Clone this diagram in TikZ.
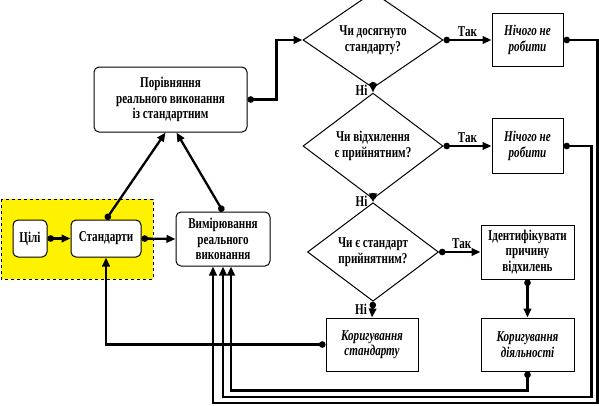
\documentclass[tikz,border=0pt]{standalone}
\usepackage{fontspec}
\setmainfont{Liberation Serif}[FakeStretch=0.74]
\usetikzlibrary{arrows.meta,shapes.geometric}

\begin{document}
\begin{tikzpicture}[x=1pt, y=1pt, line width=2.3pt,
	rbox/.style={draw, line width=1pt, rounded corners=5pt, fill=white, align=center, inner sep=1pt, font=\fontsize{15}{15.5}\selectfont\bfseries},
	sbox/.style={draw, line width=1pt, fill=white, align=center, inner sep=1pt, font=\fontsize{15}{15.5}\selectfont\bfseries\itshape},
	ibox/.style={sbox, font=\fontsize{15}{15.5}\selectfont\bfseries},
	ask/.style={draw, diamond, line width=1pt, inner sep=0pt, align=center, font=\fontsize{15}{15.5}\selectfont\bfseries},
	link/.style={{Circle[length=6.5pt]}-{Triangle[length=9pt,width=7.5pt]}},
	tag/.style={font=\fontsize{15}{15}\selectfont\bfseries, inner sep=2.5pt}]
		\useasboundingbox (0,0) rectangle (599,-405);
		%%%%% START %%%%%
		\draw[fill=yellow, dashed, line width=1pt] (1, -199) rectangle (153, -279);
		
		\node[rbox, minimum width=34, minimum height=37] (cili) at (30, -238.5) {Цілі};
		\node[rbox, minimum width=70, minimum height=37] (std) at (106, -238.5) {Стандарти};
		\node[rbox, minimum width=94, minimum height=54] (vym) at (223, -239) {Вимірювання\\реального\\виконання};
		\node[rbox, minimum width=153, minimum height=65] (por) at (170.5, -99.5) {Порівняння\\реального виконання\\із стандартним};
		
		\node[ask, minimum width=140, minimum height=80] (q1) at (373, -40) {Чи досягнуто\\стандарту?};
		\node[ask, minimum width=140, minimum height=78] (q2) at (373, -146) {Чи відхилення\\є прийнятним?};
		\node[ask, minimum width=131, minimum height=78] (q3) at (373, -252) {Чи є стандарт\\прийнятним?};
		
		\node[sbox, minimum width=71, minimum height=53] (nil1) at (527.5, -40) {Нічого не\\робити};
		\node[sbox, minimum width=71, minimum height=55] (nil2) at (527.5, -146) {Нічого не\\робити};
		\node[ibox, minimum width=93, minimum height=54] (ident) at (527.5, -252) {Ідентифікувати\\причину\\відхилень};
		\node[sbox, minimum width=93, minimum height=53] (kd) at (527.5, -344.5) {Коригування\\діяльності};
		\node[sbox, minimum width=92, minimum height=53] (ks) at (372, -344.5) {Коригування\\стандарту};
		
		\draw[link] (cili.east) -- (std.west);
		\draw[link] (std.east) -- (vym.west);
		\draw[link] (std.north) -- ([xshift=-5]por.south);
		\draw[link] (vym.north) -- ([xshift=6]por.south);
		\draw[link] (por.east) -- ++(29, 0) |- (q1.west);
		
		\draw[link] (q1.east) -- node[tag, above] {Так} (nil1.west);
		\draw[link] (q2.east) -- node[tag, above] {Так} (nil2.west);
		\draw[link] (q3.east) -- node[tag, above, xshift=2] {Так} (ident.west);
		\draw[link] (q1.south) -- node[tag, left, xshift=-2] {Ні} (q2.north);
		\draw[link] (q2.south) -- node[tag, left, xshift=-2] {Ні} (q3.north);
		\draw[link] (q3.south) -- node[tag, left, xshift=-2] {Ні} (ks.north);
		\draw[link] (ident.south) -- (kd.north);
		
		\draw[link] (ks.west) -| (std.south);
		\draw[link] (kd.south) -- ++(0, -19) -| ([xshift=8]vym.south);
		\draw[link] (nil2.east) -- ++(28, 0) -- ++(0, -251) -| (vym.south);
		\draw[link] (nil1.east) -- ++(34, 0) -- ++(0, -363) -| ([xshift=-10]vym.south);
		%%%%% END %%%%%
\end{tikzpicture}
\end{document}
